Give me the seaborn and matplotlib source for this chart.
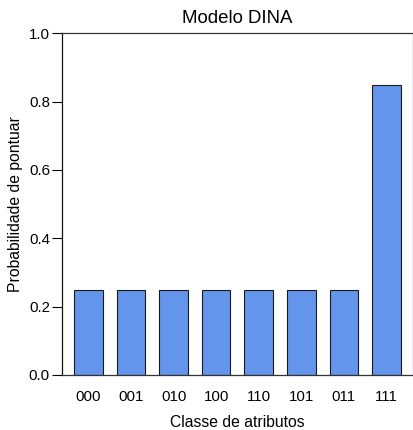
import pandas as pd
import seaborn as sns
import matplotlib.pyplot as plt

# values
classes = ['000', '001', '010', '100', '110', '101', '011', '111']
probs = [0.25, 0.25, 0.25, 0.25, 0.25, 0.25, 0.25, 0.85]
yticks = [0.0, 0.2, 0.4, 0.6, 0.8, 1.0]

sns.set_style('white')
plt.rcParams['font.family'] = ['Liberation Sans', 'DejaVu Sans']
plt.rcParams['text.color'] = 'black'
plt.rcParams['axes.labelcolor'] = 'black'
plt.rcParams['xtick.color'] = 'black'
plt.rcParams['ytick.color'] = 'black'

df = pd.DataFrame({'classe': classes, 'prob': probs})

fig = plt.figure(figsize=(4.14, 4.30), dpi=100)
ax = fig.add_axes([0.149, 0.128, 0.849, 0.7946])

sns.barplot(
    data=df,
    x='classe',
    y='prob',
    order=classes,
    color='#6495ED',
    saturation=1,
    width=0.67,
    edgecolor='#1a1a1a',
    linewidth=0.8,
    ax=ax
)

ax.set_xlim(-0.63, 7.63)
ax.set_ylim(0, 1.0)
ax.set_yticks(yticks)
ax.set_yticklabels([f'{t:.1f}' for t in yticks])

ax.set_title('Modelo DINA', fontsize=13.4, pad=7.5)
ax.set_xlabel('Classe de atributos', fontsize=11.3, labelpad=7.5)
ax.set_ylabel('Probabilidade de pontuar', fontsize=11.3, labelpad=4.5)

ax.tick_params(axis='x', length=0, pad=11, labelsize=10.8)
ax.tick_params(axis='y', left=True, length=7, width=0.8, pad=1.5,
               labelsize=10.8, direction='out')

for side, col in [('left', '#111111'), ('bottom', '#333333'),
                  ('top', '#333333'), ('right', '#777777')]:
    ax.spines[side].set_visible(True)
    ax.spines[side].set_color(col)
    ax.spines[side].set_linewidth(0.9)

fig.savefig('out.png', dpi=100)
